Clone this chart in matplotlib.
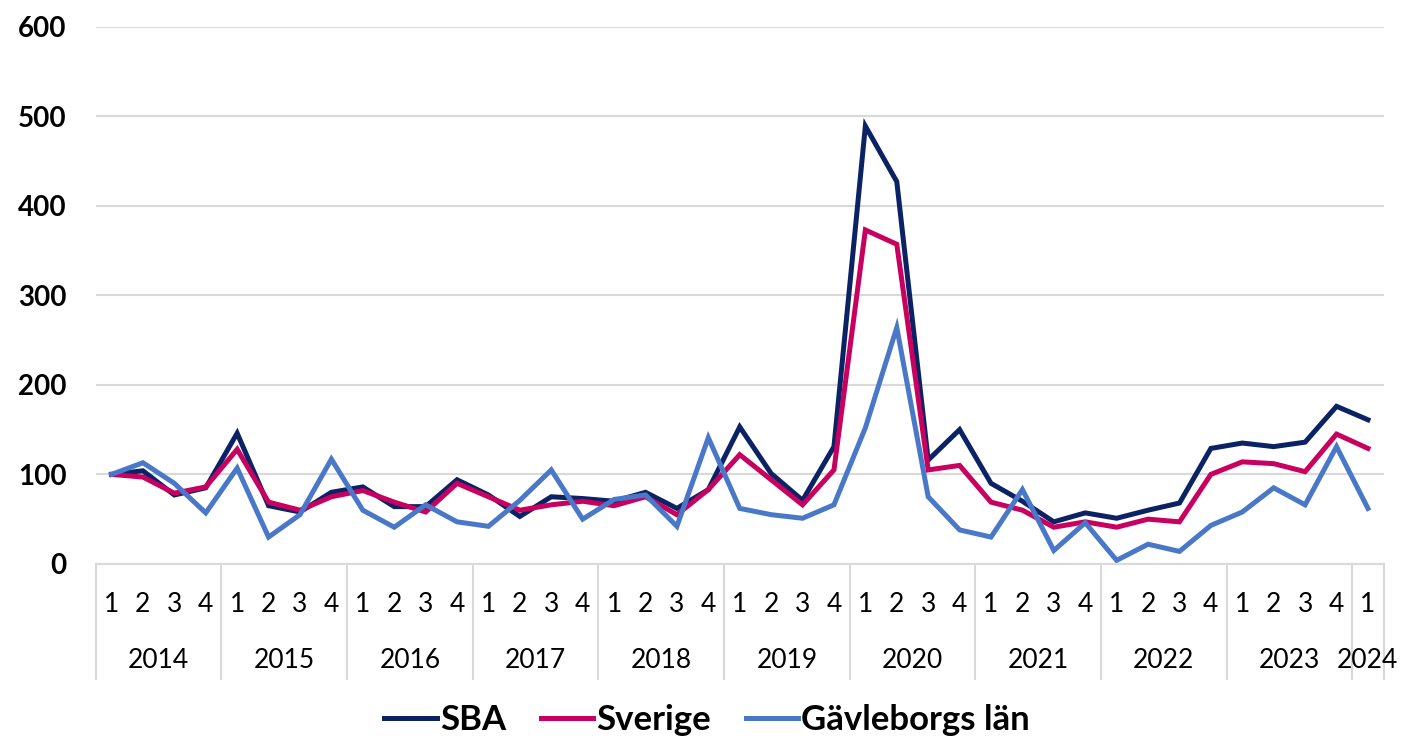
import matplotlib
matplotlib.use("Agg")
import matplotlib.pyplot as plt
import matplotlib.transforms as mtransforms

plt.rcParams['font.family'] = ['Lato', 'DejaVu Sans']

years = ["2014", "2015", "2016", "2017", "2018", "2019", "2020", "2021", "2022", "2023", "2024"]
quarters = ["1", "2", "3", "4"] * 10 + ["1"]

sba = [100, 104, 77, 85, 146, 65, 58, 80, 86, 64,
       64, 94, 77, 53, 75, 73, 70, 80, 62, 83,
       153, 101, 71, 131, 489, 427, 116, 150, 90, 70,
       47, 57, 51, 60, 68, 129, 135, 131, 136, 176,
       161]
sverige = [100, 97, 79, 86, 128, 69, 60, 75, 82, 69,
           58, 90, 75, 60, 66, 70, 65, 75, 55, 83,
           122, 94, 66, 105, 373, 357, 105, 110, 69, 60,
           41, 47, 41, 50, 47, 100, 114, 112, 103, 145,
           129]
gavle = [100, 113, 90, 57, 107, 30, 55, 117, 60, 41,
         66, 47, 42, 71, 105, 50, 72, 77, 42, 141,
         62, 55, 51, 66, 152, 264, 75, 38, 30, 83,
         15, 46, 4, 22, 14, 43, 58, 85, 66, 131,
         62]

series = [("SBA", sba, "#0b2265"), ("Sverige", sverige, "#c8005f"), ("Gävleborgs län", gavle, "#4a78c8")]

fig = plt.figure(figsize=(14.09, 7.42), dpi=100)
ax = fig.add_axes([0.068, 0.240, 0.914, 0.724])

x = list(range(len(sba)))
for name, vals, col in series:
    ax.plot(x, vals, color=col, lw=3.6, label=name, solid_joinstyle="miter")

ax.set_ylim(0, 600)
ax.set_xlim(-0.5, len(x) - 0.5)
ax.set_yticks(range(0, 601, 100))
ax.set_yticklabels([str(v) for v in range(0, 601, 100)], fontsize=20, fontweight="bold")
ax.tick_params(axis="y", length=0, pad=21)
ax.set_xticks([])
ax.grid(axis="y", color="#d9d9d9", lw=1.5)
ax.set_axisbelow(True)
for s in ["top", "right", "left"]:
    ax.spines[s].set_visible(False)
ax.spines["bottom"].set_color("#d9d9d9")
ax.spines["bottom"].set_linewidth(1.5)

# multi-level category axis
trans = mtransforms.blended_transform_factory(ax.transData, ax.transAxes)
bounds = [-0.5 + 4 * k for k in range(11)] + [len(x) - 0.5]
for b in bounds:
    ax.plot([b, b], [0, -0.215], transform=trans, color="#d9d9d9", lw=1.5, clip_on=False)
for i, q in enumerate(quarters):
    ax.text(i, -0.075, q, transform=trans, ha="center", va="center", fontsize=19)
for k, yr in enumerate(years):
    mid = (bounds[k] + bounds[k + 1]) / 2
    ax.text(mid, -0.18, yr, transform=trans, ha="center", va="center", fontsize=19)

handles, labels = ax.get_legend_handles_labels()
fig.legend(handles, labels, loc="center", bbox_to_anchor=(0.502, 0.03), ncol=3, frameon=False,
           prop={"size": 25, "weight": "bold"}, handlelength=1.5, handletextpad=0.1,
           columnspacing=1.0)

fig.savefig("out.png", dpi=100)
